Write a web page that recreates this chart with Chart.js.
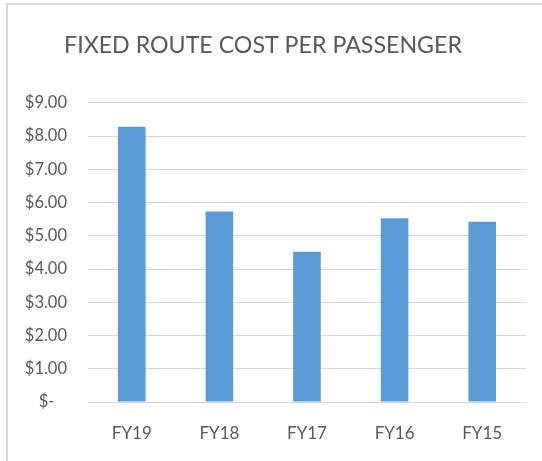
<!DOCTYPE html>
<html>
<head>
<meta charset="utf-8">
<script src="https://cdn.jsdelivr.net/npm/chart.js@4/dist/chart.umd.min.js"></script>
<style>
html,body{margin:0;padding:0;background:#fff;}
canvas{display:block;}
</style>
</head>
<body>
<canvas id="c" width="542" height="461"></canvas>
<script>
const categories = ["FY19", "FY18", "FY17", "FY16", "FY15"];
const costPerPassenger = [8.28, 5.73, 4.52, 5.53, 5.42];
const yTickValues = [0, 1, 2, 3, 4, 5, 6, 7, 8, 9];
const titleText = "FIXED ROUTE COST PER PASSENGER";

const FONT = "Lato, 'Open Sans', sans-serif";
const TEXT = "#595959";

const frame = {
  id: "frame",
  beforeDraw(chart) {
    const ctx = chart.ctx;
    ctx.save();
    ctx.fillStyle = "#fff";
    ctx.fillRect(0, 0, chart.width, chart.height);
    ctx.fillStyle = "#d9d9d9";
    ctx.fillRect(6, 3, 2, chart.height - 3);
    ctx.fillRect(6, 3, chart.width - 6, 2);
    ctx.restore();
  }
};

new Chart(document.getElementById("c"), {
  type: "bar",
  data: {
    labels: categories,
    datasets: [{
      data: costPerPassenger,
      backgroundColor: "#5b9bd5",
      borderWidth: 0,
      categoryPercentage: 1,
      barPercentage: 0.315
    }]
  },
  options: {
    responsive: false,
    devicePixelRatio: 1,
    animation: false,
    layout: { padding: { left: 0, right: 16, top: 21, bottom: 0 } },
    plugins: {
      legend: { display: false },
      tooltip: { enabled: false },
      title: {
        display: true,
        text: titleText,
        color: TEXT,
        font: { family: FONT, size: 23.2, weight: "normal" },
        padding: { top: 11, bottom: 43 }
      }
    },
    scales: {
      x: {
        grid: { display: false, drawTicks: false },
        border: { display: false },
        ticks: { color: TEXT, font: { family: FONT, size: 17 }, padding: 21 },
        afterFit(axis) { axis.height = 59; }
      },
      y: {
        min: 0,
        max: 9,
        afterBuildTicks(axis) { axis.ticks = yTickValues.map(v => ({ value: v })); },
        grid: { color: "#d9d9d9", lineWidth: 1, drawTicks: false },
        border: { display: false },
        ticks: {
          color: TEXT,
          font: { family: FONT, size: 16.5 },
          padding: 21,
          callback: v => v === 0 ? "$-   " : "$" + Number(v).toFixed(2)
        },
        afterFit(axis) { axis.width = 88; }
      }
    }
  },
  plugins: [frame]
});
</script>
</body>
</html>
